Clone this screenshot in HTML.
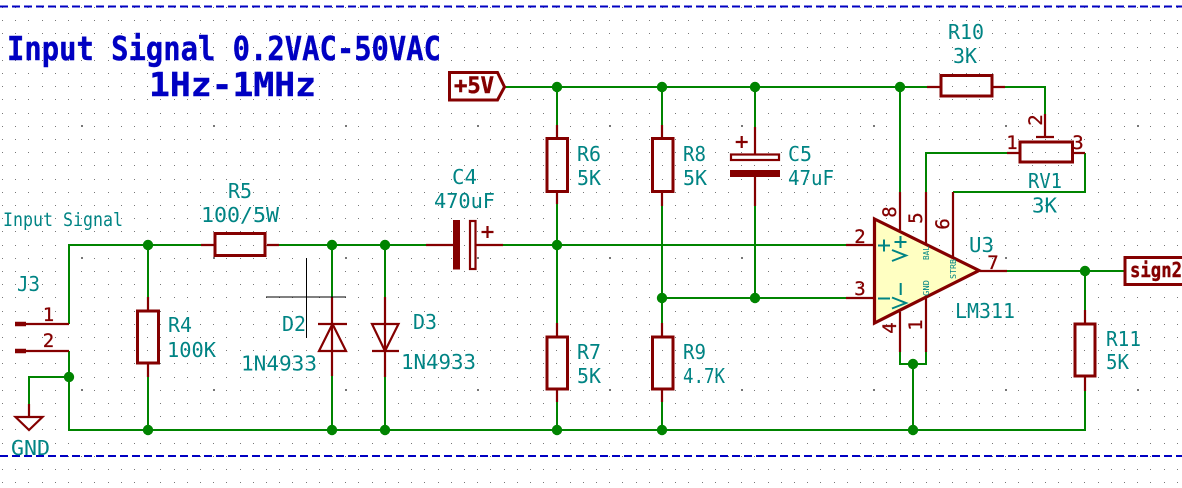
<!DOCTYPE html>
<html><head><meta charset="utf-8"><style>
html,body{margin:0;padding:0;background:#fff;width:1182px;height:488px;overflow:hidden}
svg{display:block}
text{font-family:"DejaVu Sans Mono","Liberation Mono",monospace}
.w{stroke:#008400;stroke-width:2;fill:none}
.r{stroke:#840000;stroke-width:2.2;fill:none}
.b{stroke:#840000;stroke-width:3;fill:none}
.t{fill:#008484;font-size:20px}
.p{fill:#840000;font-size:19px;stroke:#840000;stroke-width:.3}
.s{fill:#008484;font-size:8px}
.j{fill:#008400}
</style></head><body>
<svg width="1182" height="488" viewBox="0 0 1182 488" xmlns="http://www.w3.org/2000/svg">
<defs>
<pattern id="g" x="2" y="7" width="66" height="66" patternUnits="userSpaceOnUse"><path shape-rendering="crispEdges" fill="#777" d="M0 0h1v1h-1zM13 0h1v1h-1zM26 0h1v1h-1zM40 0h1v1h-1zM53 0h1v1h-1zM0 13h1v1h-1zM13 13h1v1h-1zM26 13h1v1h-1zM40 13h1v1h-1zM53 13h1v1h-1zM0 26h1v1h-1zM13 26h1v1h-1zM26 26h1v1h-1zM40 26h1v1h-1zM53 26h1v1h-1zM0 40h1v1h-1zM13 40h1v1h-1zM26 40h1v1h-1zM40 40h1v1h-1zM53 40h1v1h-1zM0 53h1v1h-1zM13 53h1v1h-1zM26 53h1v1h-1zM40 53h1v1h-1zM53 53h1v1h-1z"/></pattern>
<pattern id="g2" x="81" y="125" width="132" height="132" patternUnits="userSpaceOnUse"><rect width="2" height="2" fill="#777"/></pattern>
</defs>
<rect width="1182" height="488" fill="#fff"/>
<rect width="1182" height="488" fill="url(#g)"/>
<rect width="1182" height="488" fill="url(#g2)"/>
<path d="M0 6.5H1182M0 456H1182" stroke="#0000c2" stroke-width="2" stroke-dasharray="8 4" fill="none"/>

<!-- wires -->
<path class="w" d="M69 324V245H201M279 245H426M503 245H846M69 351V430H1085V391M69 377H29V404"/>
<path class="w" d="M148 245V297M148 377V430M332 245V297M332 376V430M385 245V297M385 377V430"/>
<path class="w" d="M505 87H927M1005 87H1045V114M557 87V125M557 204V323M557 402V430M662 87V125M662 206V323M662 402V430M755 87V127M755 206V298M662 298H846"/>
<path class="w" d="M900 87V192M1007 153H926V192M953 192H1085V153M900 352V364H926V352M913 364V430M1007 271H1124M1085 271V310"/>

<!-- pins -->
<path class="r" d="M25 324H69M25 351H69M29 404V417M201 245H214M267 245H279M148 297V310M148 363V377M332 297V376M385 297V377M426 245H453M476 245H503M557 125V138M557 192V204M557 323V336M557 390V402M662 125V138M662 192V206M662 323V336M662 390V402M755 127V154M755 177V206M927 87H940M993 87H1005M1045 114V137M1036 137H1054M1007 153H1019M1073 153H1085M926 192V243M953 192V257M900 192V230M846 245H874M846 298H874M980 271H1007M900 312V352M926 298V352M1085 310V323M1085 377V391"/>
<path d="M15 324H26M15 351H26" stroke="#840000" stroke-width="4.5" fill="none"/>

<!-- bodies -->
<g class="b">
<rect x="215" y="233.5" width="50" height="22"/>
<rect x="137.5" y="311" width="21" height="52"/>
<rect x="547" y="138.5" width="20.5" height="53"/>
<rect x="652.5" y="138.5" width="20.5" height="53"/>
<rect x="547" y="337" width="20.5" height="52"/>
<rect x="652.5" y="337" width="20.5" height="52"/>
<rect x="1075" y="324" width="20" height="52"/>
<rect x="941" y="75.5" width="51" height="20.5"/>
<rect x="1020" y="142" width="52.5" height="20"/>
</g>
<g fill="none" stroke="#840000" stroke-width="2.2">
<rect x="470" y="221" width="5.5" height="48"/>
<rect x="731" y="154.5" width="48" height="5.5"/>
<path d="M487.5 226V238M481.5 232H493.5M741.7 136V148M735.7 142H747.7"/>
<path d="M15.5 417H42.5L29 430Z"/>
<path d="M318 324H347M319 351H346L332.5 324Z"/>
<path d="M372 324H398.5L385 351ZM372 351H399"/>
</g>
<rect x="453" y="220" width="7" height="49.5" fill="#840000"/>
<rect x="730" y="170" width="50" height="7" fill="#840000"/>
<path d="M266 297H346M306.5 258V338" stroke="#000" stroke-width="1" fill="none"/>

<!-- op amp -->
<path d="M874.5 219 979 270.5 874.5 323Z" fill="#ffffc2" stroke="#840000" stroke-width="3.2" stroke-linejoin="miter"/>
<path d="M878 245.5H890M884 239.5V251.5M878 298.5H890" stroke="#008484" stroke-width="2" fill="none"/>
<path d="M894.5 242H906.5M900.5 236V248M900.7 283V295" stroke="#008484" stroke-width="2" fill="none"/>
<path d="M892 250 906 255.5 892 261M892 297.5 906 303 892 308.5" stroke="#008484" stroke-width="2" fill="none"/>
<text class="s" transform="translate(929,260) rotate(-90)" textLength="14" lengthAdjust="spacingAndGlyphs">BAL</text>
<text class="s" transform="translate(956,279) rotate(-90)" textLength="20" lengthAdjust="spacingAndGlyphs">STRB</text>
<text class="s" transform="translate(929,296) rotate(-90)" textLength="16" lengthAdjust="spacingAndGlyphs">GND</text>

<!-- hier labels -->
<path d="M449.5 72.5H497.5L504.5 87 497.5 100H449.5Z" fill="#fff" stroke="#840000" stroke-width="3"/>
<path d="M1184 257.5H1125V284.5H1184" fill="#fff" stroke="#840000" stroke-width="3"/>
<text x="454" y="93" fill="#840000" stroke="#840000" stroke-width=".5" font-size="22" font-weight="bold" textLength="40" lengthAdjust="spacingAndGlyphs">+5V</text>
<text x="1130" y="277" fill="#840000" stroke="#840000" stroke-width=".4" font-size="20" font-weight="bold" textLength="52" lengthAdjust="spacingAndGlyphs">sign2</text>

<!-- junctions -->
<g class="j">
<circle cx="148" cy="245" r="5.2"/><circle cx="332" cy="245" r="5.2"/><circle cx="385" cy="245" r="5.2"/><circle cx="557" cy="245" r="5.2"/>
<circle cx="557" cy="87" r="5.2"/><circle cx="662" cy="87" r="5.2"/><circle cx="755" cy="87" r="5.2"/><circle cx="900" cy="87" r="5.2"/>
<circle cx="662" cy="298" r="5.2"/><circle cx="755" cy="298" r="5.2"/>
<circle cx="69" cy="377" r="5.2"/>
<circle cx="148" cy="430" r="5.2"/><circle cx="332" cy="430" r="5.2"/><circle cx="385" cy="430" r="5.2"/><circle cx="557" cy="430" r="5.2"/><circle cx="662" cy="430" r="5.2"/><circle cx="913" cy="430" r="5.2"/>
<circle cx="913" cy="364" r="5.2"/><circle cx="1085" cy="271" r="5.2"/>
</g>

<!-- title -->
<text x="7" y="60" fill="#0000c2" stroke="#0000c2" stroke-width=".4" font-size="33" font-weight="bold" textLength="434" lengthAdjust="spacingAndGlyphs">Input Signal 0.2VAC-50VAC</text>
<text x="149" y="96" fill="#0000c2" stroke="#0000c2" stroke-width=".4" font-size="33" font-weight="bold" textLength="167" lengthAdjust="spacingAndGlyphs">1Hz-1MHz</text>

<!-- labels -->
<text class="t" style="font-size:19px" x="3" y="226" textLength="120" lengthAdjust="spacingAndGlyphs">Input Signal</text>
<text class="t" x="228" y="198" textLength="24" lengthAdjust="spacingAndGlyphs">R5</text>
<text class="t" x="201" y="222" textLength="78" lengthAdjust="spacingAndGlyphs">100/5W</text>
<text class="t" x="17" y="291" textLength="23" lengthAdjust="spacingAndGlyphs">J3</text>
<text class="t" x="168" y="332" textLength="24" lengthAdjust="spacingAndGlyphs">R4</text>
<text class="t" x="167" y="357" textLength="49" lengthAdjust="spacingAndGlyphs">100K</text>
<text class="t" x="11" y="455" textLength="39" lengthAdjust="spacingAndGlyphs">GND</text>
<text class="t" x="282" y="331" textLength="24" lengthAdjust="spacingAndGlyphs">D2</text>
<text class="t" x="241" y="370.5" textLength="76" lengthAdjust="spacingAndGlyphs">1N4933</text>
<text class="t" x="413" y="329" textLength="24" lengthAdjust="spacingAndGlyphs">D3</text>
<text class="t" x="401" y="369" textLength="75" lengthAdjust="spacingAndGlyphs">1N4933</text>
<text class="t" x="452" y="184" textLength="25" lengthAdjust="spacingAndGlyphs">C4</text>
<text class="t" x="434" y="208" textLength="61" lengthAdjust="spacingAndGlyphs">470uF</text>
<text class="t" x="577" y="161" textLength="24" lengthAdjust="spacingAndGlyphs">R6</text>
<text class="t" x="577" y="185" textLength="24" lengthAdjust="spacingAndGlyphs">5K</text>
<text class="t" x="683" y="161" textLength="23" lengthAdjust="spacingAndGlyphs">R8</text>
<text class="t" x="683" y="185" textLength="24" lengthAdjust="spacingAndGlyphs">5K</text>
<text class="t" x="788" y="161" textLength="24" lengthAdjust="spacingAndGlyphs">C5</text>
<text class="t" x="788" y="185" textLength="46" lengthAdjust="spacingAndGlyphs">47uF</text>
<text class="t" x="577" y="359" textLength="24" lengthAdjust="spacingAndGlyphs">R7</text>
<text class="t" x="577" y="383" textLength="24" lengthAdjust="spacingAndGlyphs">5K</text>
<text class="t" x="683" y="359" textLength="23" lengthAdjust="spacingAndGlyphs">R9</text>
<text class="t" x="683" y="383" textLength="42" lengthAdjust="spacingAndGlyphs">4.7K</text>
<text class="t" x="1106" y="346" textLength="35" lengthAdjust="spacingAndGlyphs">R11</text>
<text class="t" x="1106" y="369" textLength="23" lengthAdjust="spacingAndGlyphs">5K</text>
<text class="t" x="948" y="39" textLength="36" lengthAdjust="spacingAndGlyphs">R10</text>
<text class="t" x="953" y="63" textLength="24" lengthAdjust="spacingAndGlyphs">3K</text>
<text class="t" x="1028" y="188" textLength="34" lengthAdjust="spacingAndGlyphs">RV1</text>
<text class="t" x="1032" y="212.5" textLength="25" lengthAdjust="spacingAndGlyphs">3K</text>
<text class="t" x="969" y="252" textLength="25" lengthAdjust="spacingAndGlyphs">U3</text>
<text class="t" x="955" y="318" textLength="60" lengthAdjust="spacingAndGlyphs">LM311</text>

<!-- pin numbers -->
<g class="p" text-anchor="middle">
<text x="48.5" y="321">1</text>
<text x="48.5" y="347">2</text>
<text x="860" y="243">2</text>
<text x="860" y="295">3</text>
<text x="993" y="269">7</text>
<text x="1012" y="149">1</text>
<text x="1078" y="149">3</text>
<text transform="translate(896,212) rotate(-90)">8</text>
<text transform="translate(922,218) rotate(-90)">5</text>
<text transform="translate(949,224) rotate(-90)">6</text>
<text transform="translate(896,328) rotate(-90)">4</text>
<text transform="translate(922,325) rotate(-90)">1</text>
<text transform="translate(1042,120) rotate(-90)">2</text>
</g>
</svg>
</body></html>
